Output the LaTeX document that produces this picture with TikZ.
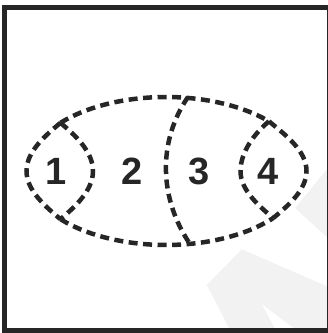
\documentclass[tikz,border=0pt]{standalone}
\usepackage{fontspec}
\setmainfont{Liberation Sans}
\usepackage{xcolor}
\usepackage{tikz}
\definecolor{inkx}{HTML}{262626}
\definecolor{markx}{HTML}{F2F2F2}
\tikzset{
  dsh/.style={inkx,line width=4.5pt,dash pattern=on 9pt off 5.5pt},
  lobe/.style={dsh,looseness=0.85},
  num/.style={inkx,font=\bfseries\fontsize{38}{40}\selectfont,anchor=base,inner sep=0pt},
  frm/.style={inkx,line width=4.8pt},
  wm/.style={fill=markx,draw=none}
}

\begin{document}
\begin{tikzpicture}[x=1pt,y=1pt]
\useasboundingbox (0,0) rectangle (328,333);
\fill[wm] (328,165)--(295,125)--(328,95)--cycle;
\fill[wm] (241.7,83.7)--(328,46.3)--(328,0)--(300,0)--(261.7,29)--(277.3,0)--(231.7,0)--(206.7,48)--cycle;
\coordinate (big) at (166,162);
\coordinate (t3) at (188,236);
\coordinate (b3) at (190,89);
\coordinate (l1) at (26.5,162);
\coordinate (r1) at (93,162);
\coordinate (l4) at (240.5,162);
\coordinate (r4) at (306.5,162);
\draw[dsh] (big) ++(139.4:139 and 74) coordinate (t1)
  arc[start angle=139.4,end angle=42.2,x radius=139,y radius=74] coordinate (t4);
\draw[dsh] (big) ++(220.6:139 and 74) coordinate (b1)
  arc[start angle=220.6,end angle=320.5,x radius=139,y radius=74] coordinate (b4);
\draw[lobe] (t1) to[out=220,in=90] (l1) to[out=270,in=140] (b1);
\draw[lobe] (t1) to[out=-40,in=90] (r1) to[out=270,in=40] (b1);
\draw[lobe] (t4) to[out=220,in=90] (l4) to[out=270,in=140] (b4);
\draw[lobe] (t4) to[out=-40,in=90] (r4) to[out=270,in=40] (b4);
\draw[dsh] (t3) .. controls (157.5,191.3) and (159,134.7) .. (b3);
\node[num] (n1) at (56.5,149) {1};
\node[num] (n2) at (132,149) {2};
\node[num] (n3) at (199,149) {3};
\node[num] (n4) at (268,149) {4};
\draw[frm] (328,325.5) -- (4.5,325.5) -- (4.5,2.2) -- (328,2.2);
\draw[inkx,line width=1.5pt] (327.5,325.5) -- (327.5,2.2);
\end{tikzpicture}
\end{document}
